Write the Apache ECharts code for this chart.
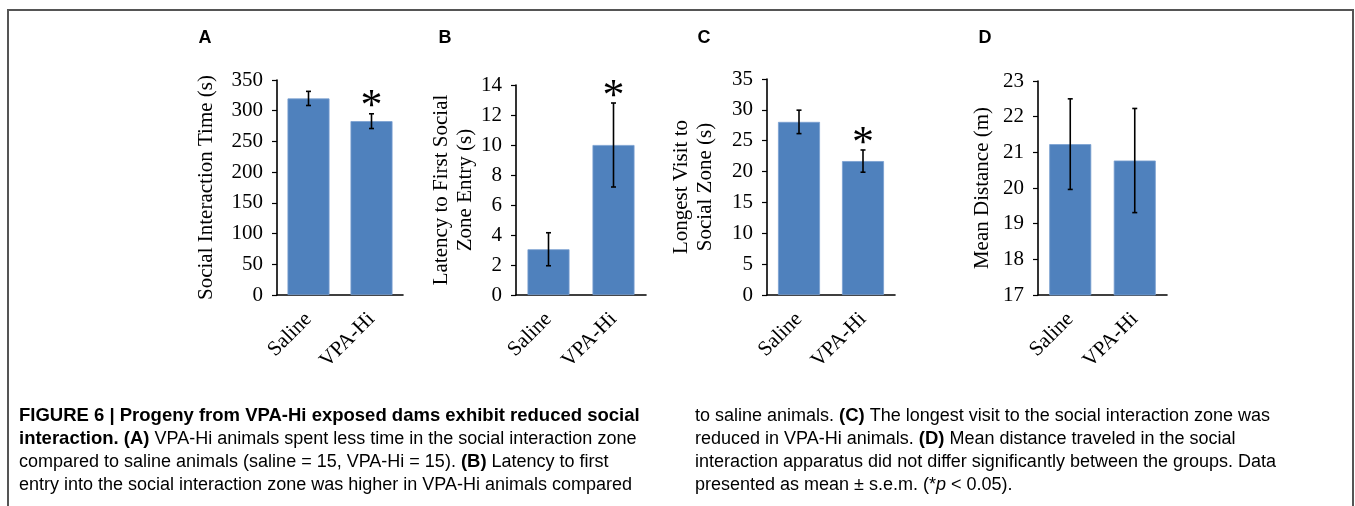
<!DOCTYPE html>
<html>
<head>
    <meta charset="utf-8">
    <title>Figure 6</title>
    <script src="https://cdn.jsdelivr.net/npm/echarts@6/dist/echarts.min.js"></script>
</head>
<body style="margin:0;background:#fff;">
    <div id="main" style="width:1355px;height:506px;"></div>
    <script type="text/javascript">
        // groups on the x axis
        var categories = ['Saline', 'VPA-Hi'];

        // A - social interaction time (s)
        var socialTime = [320, 283];
        var socialTimeErr = [11.5, 12];
        var socialTimeSig = [0, 1];

        // B - latency to first social zone entry (s)
        var latency = [3.05, 10.0];
        var latencyErr = [1.1, 2.8];
        var latencySig = [0, 1];

        // C - longest visit to social zone (s)
        var longestVisit = [28.05, 21.7];
        var longestVisitErr = [1.9, 1.8];
        var longestVisitSig = [0, 1];

        // D - mean distance (m)
        var meanDistance = [21.23, 20.77];
        var meanDistanceErr = [1.27, 1.46];
        var meanDistanceSig = [0, 0];

        var serif = '"Liberation Serif", "Times New Roman", serif';
        var sans = '"Liberation Sans", Arial, sans-serif';

        var myChart = echarts.init(document.getElementById('main'));

        // error bar + asterisk
        function renderErr(params, api) {
            var top = api.coord([api.value(0), api.value(2)]);
            var bot = api.coord([api.value(0), api.value(1)]);
            var cap = 2.5;
            var st = { stroke: '#000', lineWidth: 1.6 };
            var kids = [
                { type: 'line', shape: { x1: top[0], y1: top[1], x2: bot[0], y2: bot[1] }, style: st },
                { type: 'line', shape: { x1: top[0] - cap, y1: top[1], x2: top[0] + cap, y2: top[1] }, style: st },
                { type: 'line', shape: { x1: bot[0] - cap, y1: bot[1], x2: bot[0] + cap, y2: bot[1] }, style: st }
            ];
            if (api.value(3)) {
                kids.push({
                    type: 'text', x: top[0], y: top[1] - 6,
                    style: { text: '*', fill: '#000', font: '44px ' + serif, textAlign: 'center', textVerticalAlign: 'middle' }
                });
            }
            return { type: 'group', children: kids };
        }

        function errData(vals, errs, sig) {
            return vals.map(function (v, i) { return [i, v - errs[i], v + errs[i], sig[i]]; });
        }

        var panels = [
            { left: 277, top: 80, width: 126, height: 215, min: 0, max: 350, interval: 50, name: 'Social Interaction Time (s)', gap: 59, vals: socialTime, errs: socialTimeErr, sig: socialTimeSig },
            { left: 516, top: 85, width: 130, height: 210, min: 0, max: 14, interval: 2, name: 'Latency to First Social\nZone Entry (s)', gap: 37, vals: latency, errs: latencyErr, sig: latencySig },
            { left: 767, top: 79, width: 128, height: 216, min: 0, max: 35, interval: 5, name: 'Longest Visit to\nSocial Zone (s)', gap: 50, vals: longestVisit, errs: longestVisitErr, sig: longestVisitSig },
            { left: 1038, top: 81, width: 129, height: 214, min: 17, max: 23, interval: 1, name: 'Mean Distance (m)', gap: 44, vals: meanDistance, errs: meanDistanceErr, sig: meanDistanceSig }
        ];

        var option = {
            animation: false,
            grid: [], xAxis: [], yAxis: [], series: [],
            graphic: []
        };

        panels.forEach(function (p, k) {
            option.grid.push({ left: p.left, top: p.top, width: p.width, height: p.height });
            option.xAxis.push({
                type: 'category', gridIndex: k, data: categories,
                axisLine: { lineStyle: { color: '#000', width: 1.6 } },
                axisTick: { show: false },
                axisLabel: { rotate: 45, interval: 0, margin: 21, color: '#000', fontSize: 21, fontFamily: serif }
            });
            option.yAxis.push({
                type: 'value', gridIndex: k, min: p.min, max: p.max, interval: p.interval,
                name: p.name, nameLocation: 'middle', nameGap: p.gap,
                nameTextStyle: { color: '#000', fontSize: 21, fontFamily: serif, lineHeight: 24 },
                axisLine: { show: true, lineStyle: { color: '#000', width: 1.6 } },
                axisTick: { show: true, length: 5, lineStyle: { color: '#000', width: 1.2 } },
                splitLine: { show: false },
                axisLabel: { margin: 14, color: '#000', fontSize: 21, fontFamily: serif }
            });
            option.series.push({
                type: 'bar', xAxisIndex: k, yAxisIndex: k, data: p.vals, barWidth: 42,
                itemStyle: { color: '#4f81bd', borderColor: '#7a9fd0', borderWidth: 0.8 }
            });
            option.series.push({
                type: 'custom', xAxisIndex: k, yAxisIndex: k, renderItem: renderErr,
                data: errData(p.vals, p.errs, p.sig), z: 5
            });
        });

        // outer frame
        option.graphic.push({
            type: 'rect', shape: { x: 8, y: 10, width: 1345, height: 520 },
            style: { fill: null, stroke: '#555', lineWidth: 2 }, silent: true
        });

        // panel letters
        [['A', 205], ['B', 445], ['C', 704], ['D', 985]].forEach(function (l) {
            option.graphic.push({
                type: 'text', x: l[1], y: 38,
                style: { text: l[0], font: 'bold 18px ' + sans, fill: '#000', textAlign: 'center', textVerticalAlign: 'middle' }
            });
        });

        // caption
        var rich = {
            n: { fontFamily: sans, fontSize: 18, color: '#231f20' },
            b: { fontFamily: sans, fontSize: 18.5, fontWeight: 'bold', color: '#231f20' },
            i: { fontFamily: sans, fontSize: 18, fontStyle: 'italic', color: '#231f20' }
        };
        var leftLines = [
            '{b|FIGURE 6 | Progeny from VPA-Hi exposed dams exhibit reduced social}',
            '{b|interaction. (A)}{n| VPA-Hi animals spent less time in the social interaction zone}',
            '{n|compared to saline animals (saline = 15, VPA-Hi = 15). }{b|(B)}{n| Latency to first}',
            '{n|entry into the social interaction zone was higher in VPA-Hi animals compared}'
        ];
        var rightLines = [
            '{n|to saline animals. }{b|(C)}{n| The longest visit to the social interaction zone was}',
            '{n|reduced in VPA-Hi animals. }{b|(D)}{n| Mean distance traveled in the social}',
            '{n|interaction apparatus did not differ significantly between the groups. Data}',
            '{n|presented as mean ± s.e.m. (*}{i|p}{n| < 0.05).}'
        ];
        var lineY = [416, 439, 462, 485];
        leftLines.forEach(function (t, i) {
            option.graphic.push({ type: 'text', x: 19, y: lineY[i], style: { text: t, rich: rich, textVerticalAlign: 'middle' } });
        });
        rightLines.forEach(function (t, i) {
            option.graphic.push({ type: 'text', x: 695, y: lineY[i], style: { text: t, rich: rich, textVerticalAlign: 'middle' } });
        });

        myChart.setOption(option);
    </script>
</body>
</html>
